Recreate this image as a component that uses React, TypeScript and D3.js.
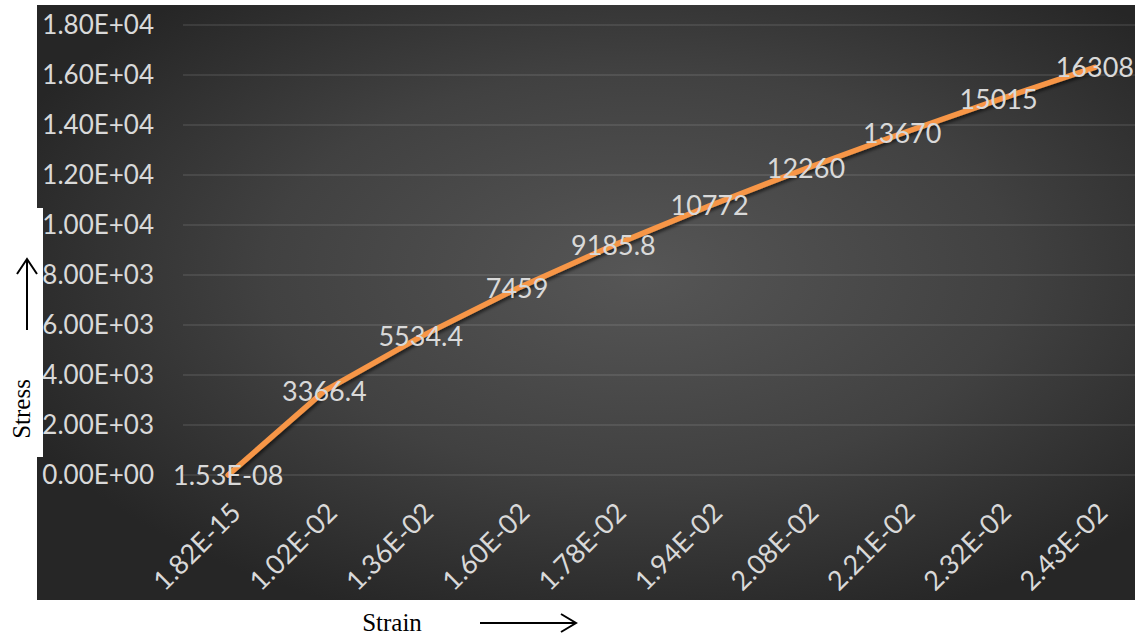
import React from "react";
import * as d3 from "d3";

const categories = ["1.82E-15", "1.02E-02", "1.36E-02", "1.60E-02", "1.78E-02", "1.94E-02", "2.08E-02", "2.21E-02", "2.32E-02", "2.43E-02"];
const stress = [1.53e-8, 3366.4, 5534.4, 7459, 9185.8, 10772, 12260, 13670, 15015, 16308];
const dataLabels = ["1.53E-08", "3366.4", "5534.4", "7459", "9185.8", "10772", "12260", "13670", "15015", "16308"];
const yTicks = [0, 2000, 4000, 6000, 8000, 10000, 12000, 14000, 16000, 18000];
const yTickLabels = ["0.00E+00", "2.00E+03", "4.00E+03", "6.00E+03", "8.00E+03", "1.00E+04", "1.20E+04", "1.40E+04", "1.60E+04", "1.80E+04"];

const W = 1135;
const H = 635;
const FONT = "Lato, 'Open Sans', sans-serif";

export default function App() {
  const x = d3.scaleBand<string>().domain(categories).range([180, 1143]).paddingInner(0).paddingOuter(0);
  const y = d3.scaleLinear().domain([0, 18000]).range([475, 25]);
  const cx = (c: string) => (x(c) ?? 0) + x.bandwidth() / 2;
  const line = d3
    .line<number>()
    .x((_, i) => cx(categories[i]))
    .y((d) => y(d));

  return (
    <svg width={W} height={H} style={{ position: "fixed", left: 0, top: 0, display: "block", background: "#fff" }}>
      <defs>
        <radialGradient id="bg" cx="0.55" cy="0.45" r="0.62">
          <stop offset="0" stopColor="#565656" />
          <stop offset="0.55" stopColor="#414141" />
          <stop offset="1" stopColor="#262626" />
        </radialGradient>
        <filter id="sh" x="-10%" y="-10%" width="120%" height="120%">
          <feDropShadow dx="1.5" dy="2.5" stdDeviation="1.5" floodColor="#000" floodOpacity="0.55" />
        </filter>
      </defs>
      <rect x={37} y={5} width={W - 37} height={595} fill="url(#bg)" />
      {yTicks.map((t) => (
        <line key={t} x1={183} x2={1135} y1={y(t)} y2={y(t)} stroke="#ffffff" strokeOpacity={0.12} strokeWidth={1.5} />
      ))}
      {yTicks.map((t, i) => (
        <text key={t} x={154} y={y(t)} dy="0.36em" textAnchor="end" fill="#d9d9d9" fontFamily={FONT} fontSize={26}>
          {yTickLabels[i]}
        </text>
      ))}
      {categories.map((c) => (
        <text
          key={c}
          transform={`translate(${cx(c) + 1},${501}) rotate(-45)`}
          textAnchor="end"
          dy="0.7em"
          fill="#d9d9d9"
          fontFamily={FONT}
          fontSize={27}
        >
          {c}
        </text>
      ))}
      <path d={line(stress) ?? ""} fill="none" stroke="#F79646" strokeWidth={5.5} strokeLinejoin="round" strokeLinecap="round" filter="url(#sh)" />
      {stress.map((v, i) => (
        <text key={i} x={cx(categories[i])} y={y(v)} dy="0.36em" textAnchor="middle" fill="#d9d9d9" fontFamily={FONT} fontSize={27}>
          {dataLabels[i]}
        </text>
      ))}
      <rect x={0} y={208} width={43} height={249} fill="#fff" />
      <text transform="translate(30,409) rotate(-90)" textAnchor="middle" fontFamily="'Liberation Serif', 'DejaVu Serif', serif" fontSize={25} fill="#000">
        Stress
      </text>
      <line x1={27} y1={330} x2={27} y2={259} stroke="#000" strokeWidth={2} />
      <polyline points="17,274 27,259 37,274" fill="none" stroke="#000" strokeWidth={2} />
      <text x={392} y={631} textAnchor="middle" fontFamily="'Liberation Serif', 'DejaVu Serif', serif" fontSize={25} fill="#000">
        Strain
      </text>
      <line x1={480} y1={623} x2={576} y2={623} stroke="#000" strokeWidth={2} />
      <polyline points="561,614 576,623 561,632" fill="none" stroke="#000" strokeWidth={2} />
    </svg>
  );
}
